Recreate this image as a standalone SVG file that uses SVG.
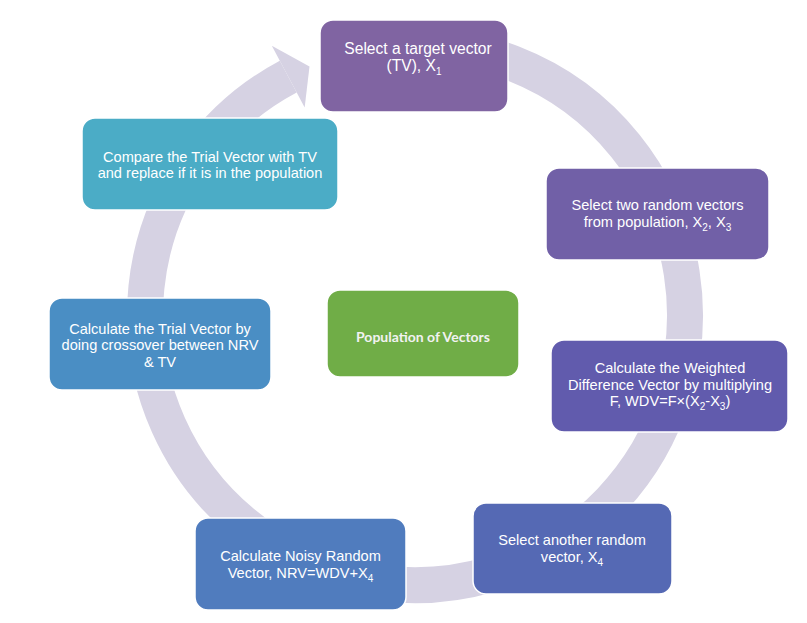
<svg xmlns="http://www.w3.org/2000/svg" width="807" height="623" viewBox="0 0 807 623">
<style>
.node{stroke:#ffffff;stroke-width:1.5}
.t{font-family:"Liberation Sans",Arial,sans-serif;font-size:14.6px;fill:#ffffff;text-anchor:middle}
.big{font-size:15.6px}
.s{font-size:10px}
.c{font-family:Lato,"Open Sans",sans-serif;font-size:14px;font-weight:bold;fill:#f2f2f2;text-anchor:middle}
.ring{fill:none;stroke:#D6D2E3;stroke-width:36}
</style>
<rect width="807" height="623" fill="#ffffff"/>
<g id="connectors">
<path class="ring" d="M391.47,46.03 A270,270 0 1 1 288.24,76.60"/>
<polygon points="271.81,45.70 309.5,66.5 304.67,107.51" fill="#D6D2E3"/>
</g>
<g id="node1">
<rect class="node" x="320" y="20" width="188" height="92" rx="13" fill="#8064A2"/>
<text class="t big" x="418" y="54">Select a target vector</text>
<text class="t big" x="414" y="71">(TV), X<tspan class="s" dy="4">1</tspan></text>
</g>
<g id="node2">
<rect class="node" x="546" y="168" width="223" height="92" rx="13" fill="#7160A7"/>
<text class="t" x="657.5" y="210">Select two random vectors</text>
<text class="t" x="657.5" y="226.5">from population, X<tspan class="s" dy="4">2</tspan><tspan dy="-4">, X</tspan><tspan class="s" dy="4">3</tspan></text>
</g>
<g id="node3">
<rect class="node" x="551" y="340" width="237" height="92" rx="13" fill="#615BAD"/>
<text class="t" x="670" y="373">Calculate the Weighted</text>
<text class="t" x="670" y="389.5">Difference Vector by multiplying</text>
<text class="t" x="670" y="406">F, WDV=F×(X<tspan class="s" dy="4">2</tspan><tspan dy="-4">-X</tspan><tspan class="s" dy="4">3</tspan><tspan dy="-4">)</tspan></text>
</g>
<g id="node4">
<rect class="node" x="473" y="503" width="199" height="91" rx="13" fill="#5569B4"/>
<text class="t" x="572" y="545">Select another random</text>
<text class="t" x="572" y="561.5">vector, X<tspan class="s" dy="4">4</tspan></text>
</g>
<g id="node5">
<rect class="node" x="195" y="518" width="211" height="92" rx="13" fill="#507CBE"/>
<text class="t" x="300.5" y="561">Calculate Noisy Random</text>
<text class="t" x="300.5" y="577.5">Vector, NRV=WDV+X<tspan class="s" dy="4">4</tspan></text>
</g>
<g id="node6">
<rect class="node" x="49" y="298" width="222" height="92" rx="13" fill="#4A8EC4"/>
<text class="t" x="160" y="333.5">Calculate the Trial Vector by</text>
<text class="t" x="160" y="350">doing crossover between NRV</text>
<text class="t" x="160" y="366.5">&amp; TV</text>
</g>
<g id="node7">
<rect class="node" x="82" y="118" width="256" height="92" rx="13" fill="#4BACC6"/>
<text class="t" x="210" y="161.5">Compare the Trial Vector with TV</text>
<text class="t" x="210" y="178">and replace if it is in the population</text>
</g>
<g id="center">
<rect class="node" x="327" y="290" width="192" height="87" rx="13" fill="#70AD47"/>
<text class="c" x="423" y="342">Population of Vectors</text>
</g>
</svg>
